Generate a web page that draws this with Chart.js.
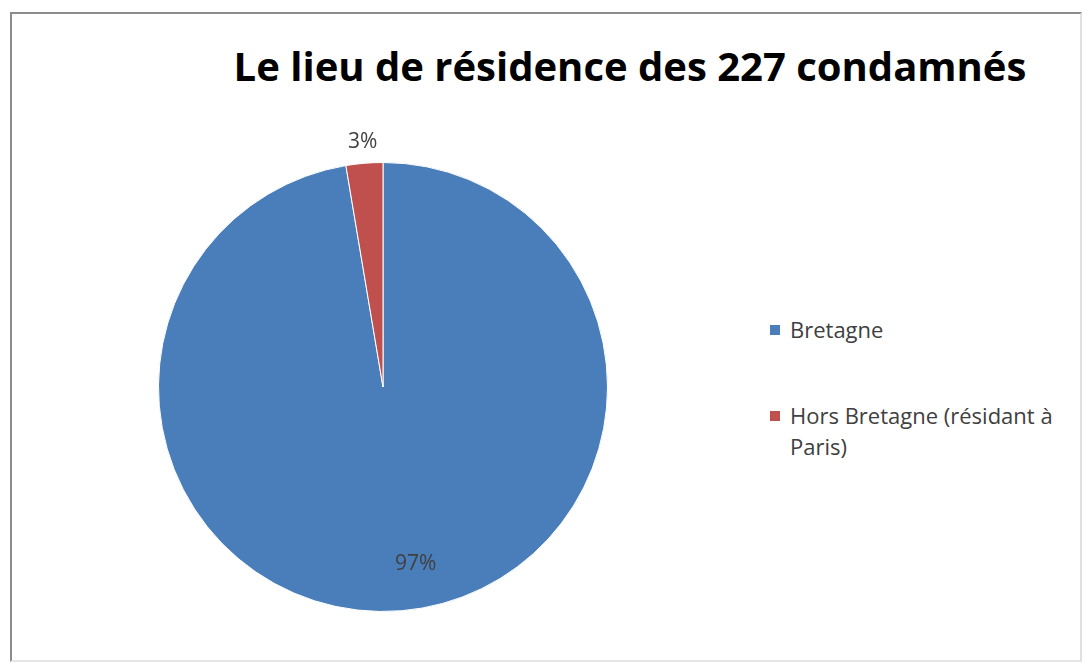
<!DOCTYPE html>
<html>
<head>
<meta charset="utf-8">
<script src="https://cdn.jsdelivr.net/npm/chart.js@4.4.1/dist/chart.umd.min.js"></script>
<style>
    body { margin: 0; background: #fff; width: 1085px; height: 666px; overflow: hidden; }
    #frame {
        position: absolute; left: 10px; top: 12px; width: 1072px; height: 650px;
        border: 2px solid #8c8c8c; border-right-color: #e0e0e0; border-bottom-color: #e6e6e6;
        box-sizing: border-box;
    }
    #title {
        position: absolute; left: 130px; width: 1000px; top: 38px; text-align: center;
        font-family: 'Open Sans', 'Noto Sans', sans-serif; font-weight: bold; font-size: 40px; color: #000;
    }
    #pie-box { position: absolute; left: 109px; top: 113px; width: 548px; height: 548px; }
    #legend {
        position: absolute; left: 770px; top: 314px; width: 300px;
        font-family: 'Open Sans', 'Noto Sans', sans-serif; font-size: 22px; color: #404040;
    }
    .item { position: relative; padding-left: 20px; line-height: 31px; margin-bottom: 55px; }
    .item span.sw { position: absolute; left: 0; top: 11px; width: 10px; height: 10px; }
</style>
</head>
<body>
<div id="frame"></div>
<div id="title">Le lieu de résidence des 227 condamnés</div>
<div id="pie-box"><canvas id="pieChart"></canvas></div>
<div id="legend"></div>

<script>
// data
const categories = ['Bretagne', 'Hors Bretagne (résidant à Paris)'];
const counts = [221, 6];
const percentLabels = ['97%', '3%'];
const colors = ['#4A7EBB', '#C0504D'];

// legend (html so the long label can wrap like the original)
const legend = document.getElementById('legend');
categories.forEach((name, i) => {
    const div = document.createElement('div');
    div.className = 'item';
    div.innerHTML = `<span class="sw" style="background:${colors[i]}"></span>${name}`;
    legend.appendChild(div);
});

// percentage labels: 97% inside the big slice, 3% just outside the small one
const labelPlugin = {
    id: 'pctLabels',
    afterDatasetsDraw(chart) {
        const ctx = chart.ctx;
        const arcs = chart.getDatasetMeta(0).data;
        ctx.save();
        ctx.font = '21px "Open Sans", "Noto Sans", sans-serif';
        ctx.fillStyle = '#404040';
        ctx.textAlign = 'center';
        ctx.textBaseline = 'middle';
        arcs.forEach((arc, i) => {
            const p = arc.getProps(['x', 'y', 'startAngle', 'endAngle', 'outerRadius'], true);
            const mid = (p.startAngle + p.endAngle) / 2 + (i === 0 ? -0.1 : 0);
            const r = i === 0 ? p.outerRadius * 0.8 : p.outerRadius + 21;
            ctx.fillText(percentLabels[i], p.x + Math.cos(mid) * r, p.y + Math.sin(mid) * r);
        });
        ctx.restore();
    }
};

new Chart(document.getElementById('pieChart').getContext('2d'), {
    type: 'pie',
    data: {
        labels: categories,
        datasets: [{
            data: counts,
            backgroundColor: colors,
            borderColor: '#ffffff',
            borderWidth: 1
        }]
    },
    options: {
        responsive: true,
        maintainAspectRatio: false,
        animation: false,
        layout: { padding: 49 },
        plugins: {
            legend: { display: false },
            title: { display: false },
            tooltip: { enabled: false }
        }
    },
    plugins: [labelPlugin]
});
</script>
</body>
</html>
